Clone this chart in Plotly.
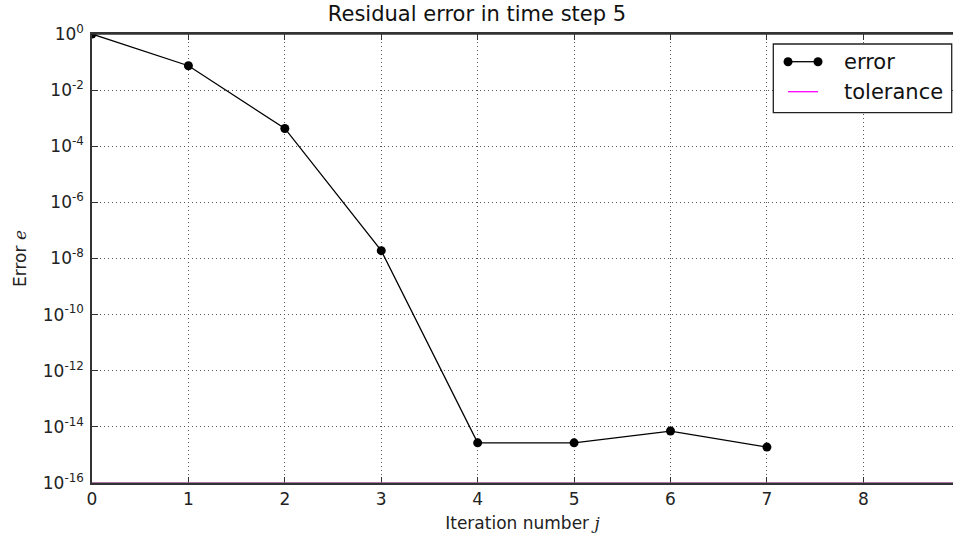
import plotly.graph_objects as go

iterations = [0, 1, 2, 3, 4, 5, 6, 7]
errors = [1.0, 7.4e-2, 4.3e-4, 1.9e-8, 2.7e-15, 2.7e-15, 7.1e-15, 1.9e-15]
tol_x = [0, 9]
tolerance = [1e-16, 1e-16]

x_ticks = [0, 1, 2, 3, 4, 5, 6, 7, 8]
y_exps = [0, -2, -4, -6, -8, -10, -12, -14, -16]
y_tickvals = [10.0 ** e for e in y_exps]
y_ticktext = ["10<sup>%d</sup>" % e for e in y_exps]

fig = go.Figure()
fig.add_trace(go.Scatter(
    x=iterations, y=errors, mode="lines+markers", name="error",
    line=dict(color="black", width=1.3),
    marker=dict(color="black", size=9),
    cliponaxis=True, showlegend=False,
))
fig.add_trace(go.Scatter(
    x=tol_x, y=tolerance, mode="lines", name="tolerance",
    line=dict(color="#8a4a8c", width=1.6), showlegend=False,
))

font = "DejaVu Sans, sans-serif"
fig.update_layout(
    width=954, height=540,
    margin=dict(l=92, r=1, t=34, b=57),
    paper_bgcolor="white", plot_bgcolor="white",
    font=dict(family=font, color="#222222", size=17),
    title=dict(text="Residual error in time step 5", x=0.5, xanchor="center",
               y=0.988, yanchor="top", font=dict(size=21, color="#111111")),
    showlegend=False,
)
fig.update_xaxes(
    range=[0, 8.93], tickvals=x_ticks, ticks="inside", ticklen=6,
    tickcolor="#333333", showline=True, linecolor="#333333", linewidth=1.5,
    mirror="ticks", showgrid=True, gridcolor="#555555", griddash="1px,3px",
    gridwidth=1, zeroline=False, tickfont=dict(size=17),
    title=dict(text="Iteration number <i style='font-family:DejaVu Serif'>j</i>", font=dict(size=17), standoff=9),
    layer="below traces",
)
fig.update_yaxes(
    type="log", range=[-16, 0], tickvals=y_tickvals, ticktext=y_ticktext,
    ticks="inside", ticklen=6, tickcolor="#333333", ticklabelstandoff=3,
    showline=True, linecolor="#333333", linewidth=1.5, mirror=False,
    showgrid=True, gridcolor="#555555", griddash="1px,3px", gridwidth=1,
    zeroline=False, tickfont=dict(size=17),
    title=dict(text="Error <i style='font-family:DejaVu Serif'>e</i>", font=dict(size=17), standoff=12),
    layer="below traces",
)
# top spine
fig.add_shape(type="line", xref="paper", yref="paper", x0=0, x1=1, y0=1, y1=1,
              line=dict(color="#333333", width=1.5))

# custom legend (matplotlib-style, markers at both ends)
bx0, bx1, by0, by1 = 0.7913, 0.9985, 0.8247, 0.9777
fig.add_shape(type="rect", xref="paper", yref="paper", x0=bx0, x1=bx1, y0=by0, y1=by1,
              line=dict(color="#222222", width=1.3), fillcolor="white", layer="above")
lx0, lx1 = 0.8084, 0.8432
ey, ty = 0.9383, 0.8715
fig.add_shape(type="line", xref="paper", yref="paper", x0=lx0, x1=lx1, y0=ey, y1=ey,
              line=dict(color="black", width=1.3), layer="above")
for cx in (lx0, lx1):
    fig.add_shape(type="circle", xref="paper", yref="paper", xsizemode="pixel", ysizemode="pixel",
                  xanchor=cx, yanchor=ey, x0=-4.5, x1=4.5, y0=-4.5, y1=4.5,
                  fillcolor="black", line=dict(color="black", width=0), layer="above")
fig.add_shape(type="line", xref="paper", yref="paper", x0=lx0, x1=lx1, y0=ty, y1=ty,
              line=dict(color="#ff00ff", width=1.3), layer="above")
for txt, yy in (("error", ey), ("tolerance", ty)):
    fig.add_annotation(text=txt, xref="paper", yref="paper", x=0.8707, y=yy,
                       xanchor="left", yanchor="middle", showarrow=False,
                       font=dict(size=21, color="#111111"))

fig.write_html("out.html")
